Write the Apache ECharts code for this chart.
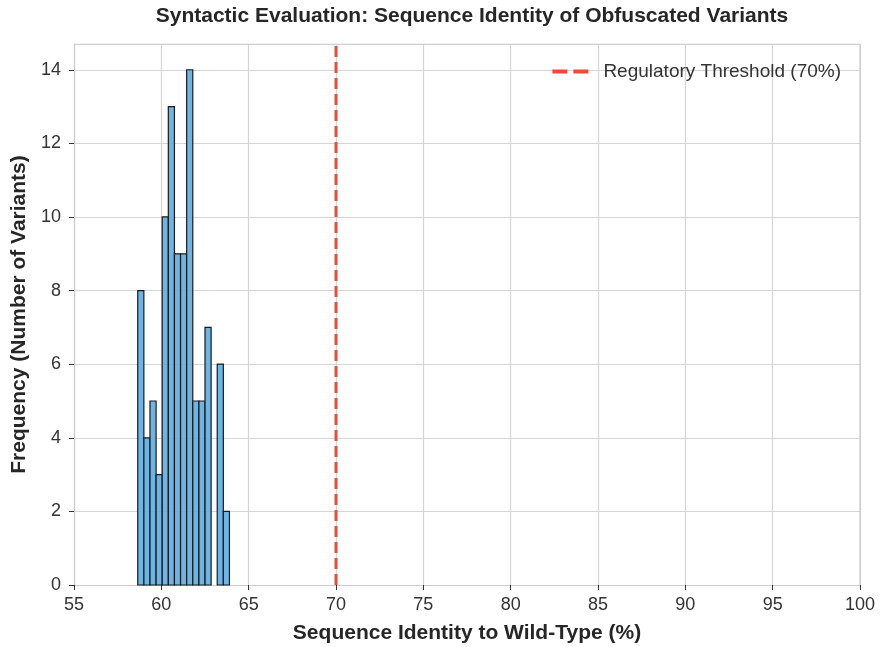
<!DOCTYPE html>
<html>
<head>
<meta charset="utf-8">
<script src="https://cdn.jsdelivr.net/npm/echarts@6/dist/echarts.min.js"></script>
<style>
  html, body { margin: 0; padding: 0; background: #fff; }
  #chart { width: 881px; height: 647px; }
</style>
</head>
<body>
<div id="chart"></div>
<script>
// histogram bin edges (% identity) and counts per bin
const binEdges = [58.65, 59.0, 59.35, 59.7, 60.05, 60.4, 60.75, 61.1, 61.45, 61.8, 62.15, 62.5, 62.85, 63.2, 63.55, 63.9];
const counts = [8, 4, 5, 3, 10, 13, 9, 9, 14, 5, 5, 7, 0, 6, 2];
const threshold = 70;
const thresholdName = 'Regulatory Threshold (70%)';

const yMax = 14.7;

const font = 'Liberation Sans, Arial, sans-serif';

const histData = counts.map((c, i) => [binEdges[i], binEdges[i + 1], c]);

const chart = echarts.init(document.getElementById('chart'));

chart.setOption({
  animation: false,
  backgroundColor: '#fff',
  title: {
    text: 'Syntactic Evaluation: Sequence Identity of Obfuscated Variants',
    left: 467,
    textAlign: 'center',
    top: 1,
    textStyle: { fontFamily: font, fontSize: 21, fontWeight: 'bold', color: '#262626' }
  },
  legend: {
    right: 35,
    top: 57,
    itemWidth: 36,
    itemHeight: 4,
    itemGap: 10,
    data: [{
      name: thresholdName,
      icon: 'path://M0,0 L15,0 L15,4 L0,4 Z M21,0 L36,0 L36,4 L21,4 Z',
      itemStyle: { color: '#e74c3c' }
    }],
    textStyle: { fontFamily: font, fontSize: 19, color: '#333', padding: [0, 0, 0, 10] }
  },
  grid: { left: 74, right: 21, top: 44, bottom: 62, outerBoundsMode: 'none' },
  xAxis: {
    type: 'value',
    min: 55,
    max: 100,
    interval: 5,
    name: 'Sequence Identity to Wild-Type (%)',
    nameLocation: 'middle',
    nameGap: 38,
    nameTextStyle: { fontFamily: font, fontSize: 21, fontWeight: 'bold', color: '#262626' },
    axisLine: { show: true, lineStyle: { color: '#cccccc', width: 1.2 } },
    axisTick: { show: true, length: 5, lineStyle: { color: '#333' } },
    axisLabel: { fontFamily: font, fontSize: 18, color: '#333', margin: 11 },
    splitLine: { show: true, lineStyle: { color: '#d5d5d5', width: 1.2 } }
  },
  yAxis: {
    type: 'value',
    min: 0,
    max: yMax,
    interval: 2,
    name: 'Frequency (Number of Variants)',
    nameLocation: 'middle',
    nameGap: 39,
    nameTextStyle: { fontFamily: font, fontSize: 21, fontWeight: 'bold', color: '#262626' },
    axisLine: { show: true, lineStyle: { color: '#cccccc', width: 1.2 } },
    axisTick: { show: true, length: 5, lineStyle: { color: '#333' } },
    axisLabel: { fontFamily: font, fontSize: 18, color: '#333', margin: 13, showMaxLabel: false },
    splitLine: { show: true, lineStyle: { color: '#d5d5d5', width: 1.2 } }
  },
  series: [
    {
      type: 'custom',
      name: 'hist',
      data: histData,
      encode: { x: [0, 1], y: 2 },
      renderItem: (params, api) => {
        const c = api.value(2);
        if (!c) return null;
        const p0 = api.coord([api.value(0), c]);
        const p1 = api.coord([api.value(1), 0]);
        return {
          type: 'rect',
          shape: { x: p0[0], y: p0[1], width: p1[0] - p0[0], height: p1[1] - p0[1] },
          style: { fill: 'rgba(93,173,226,0.9)', stroke: '#1a1a1a', lineWidth: 1.2 }
        };
      },
      z: 3
    },
    {
      type: 'line',
      name: thresholdName,
      data: [[threshold, 0], [threshold, yMax]],
      symbol: 'none',
      color: '#e74c3c',
      lineStyle: { color: '#e74c3c', width: 3, type: [11, 5] },
      z: 4
    },
    // top and right frame lines
    {
      type: 'line',
      data: [[55, yMax], [100, yMax], [100, 0]],
      symbol: 'none',
      silent: true,
      lineStyle: { color: '#cccccc', width: 1.2 },
      z: 1
    }
  ]
});
</script>
</body>
</html>
